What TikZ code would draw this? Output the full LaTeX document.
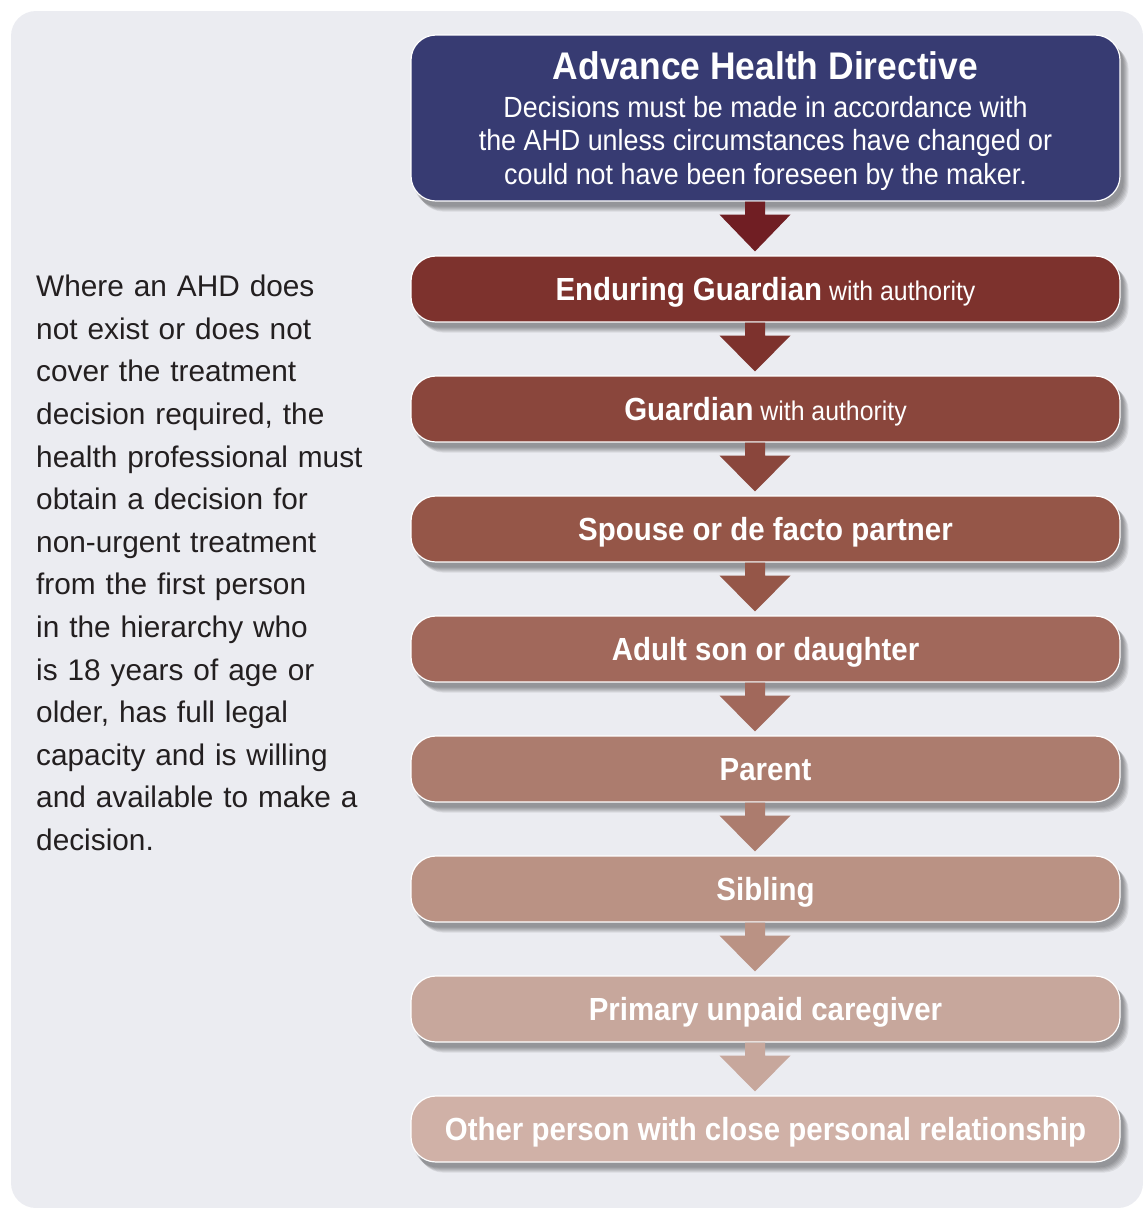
\documentclass[tikz,border=0pt]{standalone}
\usepackage{fontspec}
\setmainfont{Liberation Sans}
\newfontfamily\narrowfont{Liberation Sans}[FakeStretch=0.92]
\definecolor{bgc}{HTML}{EBECF1}
\definecolor{txt}{HTML}{231F20}
\definecolor{c0}{HTML}{373B72}
\definecolor{c1}{HTML}{7D322D}
\definecolor{c2}{HTML}{8A463C}
\definecolor{c3}{HTML}{955648}
\definecolor{c4}{HTML}{A1685B}
\definecolor{c5}{HTML}{AC7C6E}
\definecolor{c6}{HTML}{BA9284}
\definecolor{c7}{HTML}{C7A79C}
\definecolor{c8}{HTML}{D0B1A7}
\definecolor{a0}{HTML}{701E23}
\pgfdeclarelayer{shadowlayer}
\pgfsetlayers{shadowlayer,main}
\tikzset{
  levelbox/.style={draw=white, line width=1.2pt, rounded corners=25pt,
    minimum width=709pt, minimum height=66pt, inner sep=0pt, text=white,
    font=\narrowfont\bfseries\fontsize{32}{36}\selectfont, align=center,
    text height=23pt, text depth=0pt},
  boxtext/.style={inner sep=0pt, text=white, align=center,
    font=\narrowfont\bfseries\fontsize{38.5}{36}\selectfont},
  shadowpiece/.style={fill=black, opacity=0.07, rounded corners=25pt},
  sidetext/.style={anchor=north west, inner sep=0pt, text=txt, align=left,
    font=\fontsize{29.8}{42.6}\selectfont, text width=340pt},
}
\newcommand{\wa}{{\mdseries\fontsize{27}{30}\selectfont\ with authority}}
\newcommand{\bodyline}[1]{{\mdseries\fontsize{29.2}{33.5}\selectfont #1}}
\newcommand{\downarrowfill}[3]{%
  \fill[#3] ([xshift=-20.5pt]#1.south) -- ([xshift=-20.5pt,yshift=-13pt]#1.south)
    -- ([xshift=-46pt,yshift=-13pt]#1.south) -- ([xshift=-10.5pt,yshift=4pt]#2.north)
    -- ([xshift=25pt,yshift=-13pt]#1.south) -- ([xshift=-0.5pt,yshift=-13pt]#1.south)
    -- ([xshift=-0.5pt]#1.south) -- cycle;}
\newcommand{\boxshadow}[1]{%
  \begin{pgfonlayer}{shadowlayer}
  \foreach \d in {3,4,5,6,7,8} {
    \fill[shadowpiece] ([xshift=\d pt,yshift=-\d pt-2pt]#1.south west) rectangle ([xshift=\d pt,yshift=-\d pt-2pt]#1.north east);
  }
  \end{pgfonlayer}}
\begin{document}
\begin{tikzpicture}[x=1pt,y=-1pt]
\begin{pgfonlayer}{shadowlayer}
\fill[bgc, rounded corners=25pt] (11,11) rectangle (1143,1208);
\end{pgfonlayer}
\useasboundingbox (0,0) rectangle (1143,1208);
\node[levelbox, fill=c0, minimum height=166pt, text height=, text depth=] (ahd) at (765.5,118) {};
\node[boxtext] (ahdtxt) at ([yshift=-3pt]ahd.center)
  {Advance Health Directive\\[2pt]
   \bodyline{Decisions must be made in accordance with}\\[-2.5pt]
   \bodyline{the AHD unless circumstances have changed or}\\[-2.5pt]
   \bodyline{could not have been foreseen by the maker.}};
\node[levelbox, fill=c1] (eg) at (765.5,289) {Enduring Guardian\wa};
\node[levelbox, fill=c2] (gu) at (765.5,409) {Guardian\wa};
\node[levelbox, fill=c3] (sp) at (765.5,529) {Spouse or de facto partner};
\node[levelbox, fill=c4] (ad) at (765.5,649) {Adult son or daughter};
\node[levelbox, fill=c5] (pa) at (765.5,769) {Parent};
\node[levelbox, fill=c6] (si) at (765.5,889) {Sibling};
\node[levelbox, fill=c7] (pc) at (765.5,1009) {Primary unpaid caregiver};
\node[levelbox, fill=c8] (ot) at (765.5,1129) {Other person with close personal relationship};
\boxshadow{ahd}
\boxshadow{eg}
\boxshadow{gu}
\boxshadow{sp}
\boxshadow{ad}
\boxshadow{pa}
\boxshadow{si}
\boxshadow{pc}
\boxshadow{ot}
\downarrowfill{ahd}{eg}{a0}
\downarrowfill{eg}{gu}{c1}
\downarrowfill{gu}{sp}{c2}
\downarrowfill{sp}{ad}{c3}
\downarrowfill{ad}{pa}{c4}
\downarrowfill{pa}{si}{c5}
\downarrowfill{si}{pc}{c6}
\downarrowfill{pc}{ot}{c7}
\node[sidetext] (side) at (36,275) {Where an AHD does\\
not exist or does not\\
cover the treatment\\
decision required, the\\
health professional must\\
obtain a decision for\\
non-urgent treatment\\
from the first person\\
in the hierarchy who\\
is 18 years of age or\\
older, has full legal\\
capacity and is willing\\
and available to make a\\
decision.};
\end{tikzpicture}
\end{document}
